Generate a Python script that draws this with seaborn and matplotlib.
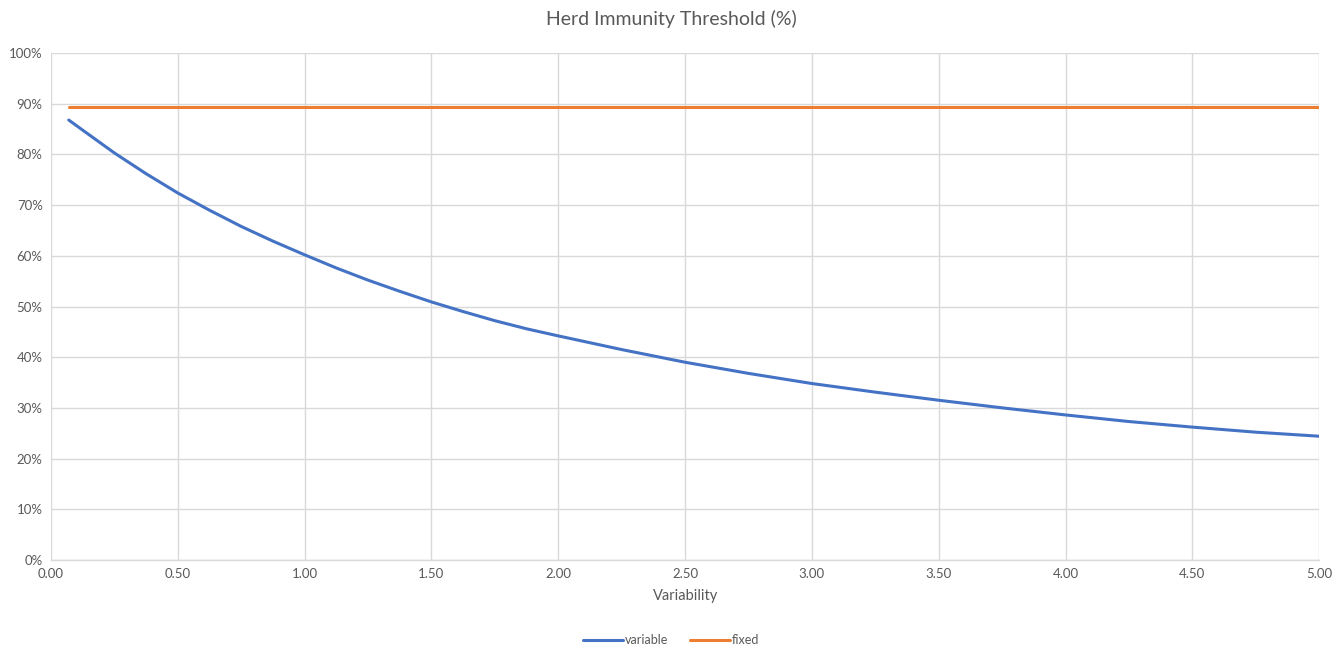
import matplotlib
matplotlib.use("Agg")
import matplotlib.pyplot as plt
import matplotlib.ticker as mticker
import pandas as pd
import seaborn as sns

# Variability values and the corresponding herd immunity thresholds (%)
variability = [0.07, 0.125, 0.25, 0.375, 0.50, 0.625, 0.75, 0.875, 1.00, 1.125,
               1.25, 1.375, 1.50, 1.625, 1.75, 1.875, 2.00, 2.25, 2.50, 2.75,
               3.00, 3.25, 3.50, 3.75, 4.00, 4.25, 4.50, 4.75, 5.00]
variable_hit = [86.8, 84.8, 80.3, 76.2, 72.4, 69.0, 65.8, 62.9, 60.2, 57.6,
                55.2, 53.0, 50.9, 49.0, 47.2, 45.6, 44.2, 41.5, 39.0, 36.8,
                34.8, 33.1, 31.5, 30.0, 28.6, 27.3, 26.2, 25.2, 24.4]
fixed_hit = [89.3] * len(variability)

series_names = ["variable", "fixed"]
series_colors = ["#4472C4", "#ED7D31"]

df = pd.concat([
    pd.DataFrame({"Variability": variability, "HIT": [v / 100 for v in variable_hit], "series": "variable"}),
    pd.DataFrame({"Variability": variability, "HIT": [v / 100 for v in fixed_hit], "series": "fixed"}),
], ignore_index=True)

sns.set_theme(style="white")
plt.rcParams["font.family"] = ["Lato", "DejaVu Sans"]

fig = plt.figure(figsize=(13.42, 6.48), dpi=100)
ax = fig.add_axes([0.038, 0.136, 0.945, 0.782])

sns.lineplot(data=df, x="Variability", y="HIT", hue="series", hue_order=series_names,
             palette=series_colors, linewidth=2.2, ax=ax, legend=False, estimator=None)
for line in ax.get_lines():
    line.set_solid_joinstyle("round")

ax.set_xlim(0, 5)
ax.set_ylim(0, 1)
ax.xaxis.set_major_locator(mticker.MultipleLocator(0.5))
ax.xaxis.set_major_formatter(mticker.FormatStrFormatter("%.2f"))
ax.yaxis.set_major_locator(mticker.MultipleLocator(0.1))
ax.yaxis.set_major_formatter(mticker.PercentFormatter(1.0, decimals=0))

ax.grid(True, color="#D9D9D9", linewidth=1.0)
ax.set_axisbelow(True)
for side in ["top", "right", "left"]:
    ax.spines[side].set_visible(False)
ax.spines["bottom"].set_color("#D9D9D9")
ax.spines["bottom"].set_linewidth(1.0)
ax.tick_params(axis="both", length=0, labelsize=9.5, labelcolor="#595959", pad=6)

ax.set_xlabel("Variability", fontsize=10.5, color="#595959", labelpad=6)
ax.set_ylabel("")
fig.suptitle("Herd Immunity Threshold (%)", fontsize=14, color="#595959", y=0.985)

handles = [plt.Line2D([0], [0], color=c, linewidth=2.2) for c in series_colors]
fig.legend(handles, series_names, loc="center", bbox_to_anchor=(0.5, 0.012),
           ncol=2, frameon=False, fontsize=9, labelcolor="#595959",
           handlelength=3.2, handletextpad=0.1, columnspacing=1.8)

fig.savefig("out.png", dpi=100)
